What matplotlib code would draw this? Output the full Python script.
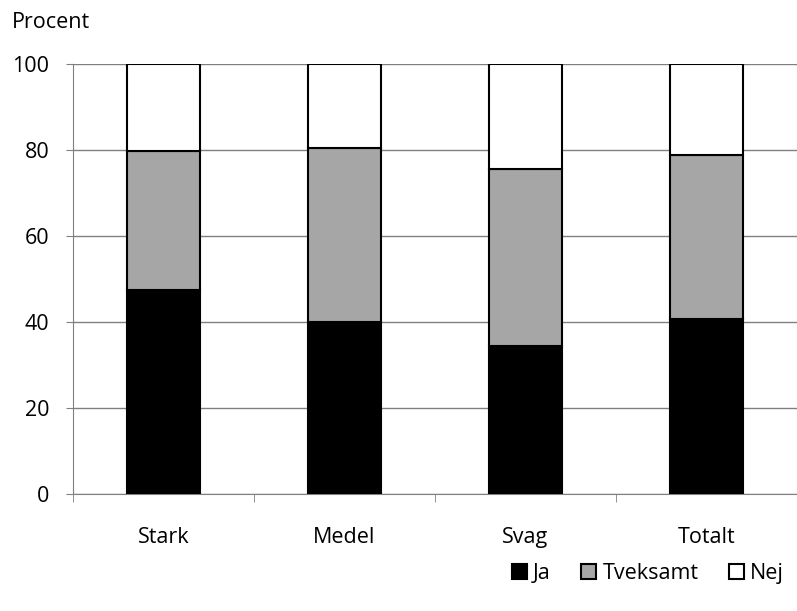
import matplotlib.pyplot as plt
import numpy as np

plt.rcParams['font.family'] = ['Open Sans', 'DejaVu Sans']

categories = ['Stark', 'Medel', 'Svag', 'Totalt']
ja = [47.5, 40.0, 34.5, 40.8]
tveksamt = [32.2, 40.5, 41.0, 38.1]
nej = [20.3, 19.5, 24.5, 21.1]

x = np.arange(len(categories))

fig = plt.figure(figsize=(7.97, 6.11), dpi=100)
ax = fig.add_axes([73/797, 1 - 494/611, 724/797, 430/611])

ax.bar(x, ja, width=0.4, color='black', edgecolor='black', linewidth=1.5, label='Ja', zorder=3)
ax.bar(x, tveksamt, width=0.4, bottom=ja, color='#a6a6a6', edgecolor='black', linewidth=1.5,
       label='Tveksamt', zorder=3)
ax.bar(x, nej, width=0.4, bottom=np.array(ja) + np.array(tveksamt), color='white',
       edgecolor='black', linewidth=1.5, label='Nej', zorder=3)

ax.set_xlim(-0.5, len(categories) - 0.5)
ax.set_ylim(0, 100)
ax.set_yticks([0, 20, 40, 60, 80, 100])
ax.yaxis.grid(True, color='#808080', linewidth=1)
ax.set_xticks(x)
ax.set_xticklabels(categories, fontsize=15.5)
ax.set_xticks(np.arange(len(categories) + 1) - 0.5, minor=True)
ax.tick_params(axis='x', which='major', length=0, pad=24)
ax.tick_params(axis='x', which='minor', length=6, color='#808080', direction='out')
ax.tick_params(axis='y', labelsize=15.5, length=5, color='#808080', pad=12)
for s in ['top', 'right']:
    ax.spines[s].set_visible(False)
ax.spines['left'].set_color('#808080')
ax.spines['bottom'].set_color('#808080')

fig.text(12/797, 1 - 22/611, 'Procent', fontsize=15.5, va='center')

ax.legend(loc='lower right', bbox_to_anchor=(1.0, -0.24), ncol=3, frameon=False, fontsize=15.5,
          handlelength=0.7, handleheight=0.7, handletextpad=0.3, columnspacing=1.4,
          borderaxespad=0.2)

fig.savefig('out.png', dpi=100)
